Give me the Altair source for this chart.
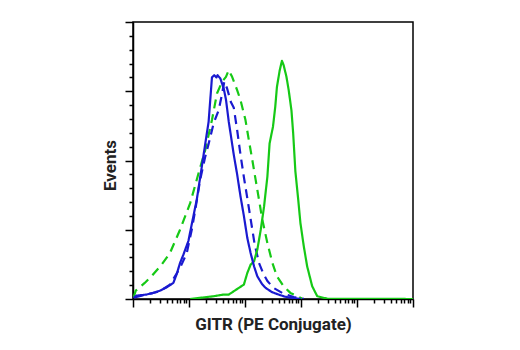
import altair as alt
import pandas as pd

# ---- data ----
blue_solid_x = [1.02, 1.15, 1.74, 2.29, 3.02, 3.98, 5.25, 6.03, 6.92, 7.94,
                9.77, 11.2, 13.8, 17.0, 19.5, 22.4, 24.0, 25.7, 28.2, 30.9,
                32.4, 36.3, 41.7, 45.7, 51.3, 55.0, 63.1, 72.4, 83.2, 95.5,
                110, 126, 145, 166, 200, 234, 302, 398, 525, 692, 1000]
blue_solid_y = [0.4, 1.2, 1.6, 2.2, 3.0, 4.2, 5.8, 9.0, 13.0, 16.0,
                21.0, 27.0, 36.0, 48.0, 56.0, 64.0, 72.0, 80.0, 80.8, 80.0,
                80.8, 79.6, 76.0, 72.0, 64.0, 60.0, 52.0, 45.0, 37.0, 30.0,
                22.0, 16.6, 11.8, 8.2, 5.5, 4.0, 2.5, 1.6, 0.8, 0.4, 0.0]

blue_dashed_x = [1.07, 1.74, 3.02, 4.57, 6.92, 9.12, 11.2, 12.9, 15.8, 19.5,
                 22.4, 27.5, 33.9, 38.9, 42.7, 47.9, 56.2, 63.1, 72.4, 83.2,
                 95.5, 117, 148, 178, 214, 251, 324, 490, 741, 1122]
blue_dashed_y = [0.6, 1.6, 2.8, 5.2, 11.2, 16.6, 25, 32, 43, 51.4,
                 56, 63.4, 68.2, 74, 78.5, 76, 71, 69, 61, 52,
                 44, 33, 20, 13, 9, 6.5, 4, 1.9, 0.7, 0.1]

green_dashed_x = [1.02, 1.12, 1.62, 2.14, 3.24, 4.57, 6.92, 10.5, 14.8, 19.5,
                  25.7, 31.6, 38.9, 45.7, 51.3, 58.9, 72.4, 83.2, 102, 117,
                  135, 155, 178, 204, 251, 309, 372, 490, 646, 851, 1047]
green_dashed_y = [0.5, 3.0, 5.8, 8.2, 12.4, 16.6, 25, 34.6, 45.4, 53.8,
                  64.6, 74.2, 78.4, 80.2, 82.6, 80.2, 75.4, 71.8, 64.6, 57.4,
                  50.2, 43, 35.8, 28.6, 20.2, 13, 8.2, 4.6, 2.2, 1.0, 0.2]

green_solid_x = [10.5, 27.5, 41.7, 51.3, 58.9, 77.6, 95.5, 110, 126, 145,
                 166, 191, 219, 251, 275, 316, 347, 372, 417, 457,
                 490, 550, 603, 676, 724, 794, 891, 977, 1122, 1288,
                 1585, 1950, 2951, 100000]
green_solid_y = [0, 1.0, 1.6, 1.6, 2.4, 4.0, 5.2, 9.4, 12.4, 13.6,
                 17.8, 25, 33.4, 44.2, 56.2, 62.2, 69.4, 76.6, 82.6, 86,
                 84.4, 80.2, 75.4, 68, 60, 46, 36, 27.4, 19, 11.8,
                 4.6, 1.0, 0.1, 0]

series_names = ["green_dashed", "blue_dashed", "green_solid", "blue_solid"]
series_colors = ["#16c916", "#1a1ad0", "#16c916", "#1a1ad0"]
series_dash = [[9, 6], [9, 6], [1, 0], [1, 0]]
series_width = [2.2, 2.2, 1.5, 1.5]

x_ticks = [m * 10 ** k for k in range(5) for m in range(1, 10)] + [100000]
y_ticks = list(range(0, 101, 5))

frames = []
for name, xs, ys in [("green_dashed", green_dashed_x, green_dashed_y),
                     ("blue_dashed", blue_dashed_x, blue_dashed_y),
                     ("green_solid", green_solid_x, green_solid_y),
                     ("blue_solid", blue_solid_x, blue_solid_y)]:
    frames.append(pd.DataFrame({"x": xs, "y": ys, "series": name}))
df = pd.concat(frames, ignore_index=True)
df["order"] = range(len(df))

title_font = "Roboto"

chart = alt.Chart(df).mark_line(clip=True, strokeJoin="round").encode(
    x=alt.X("x:Q",
            scale=alt.Scale(type="log", domain=[1, 100000], nice=False),
            axis=alt.Axis(values=x_ticks, labels=False, grid=False,
                          title="GITR (PE Conjugate)",
                          tickSize={"condition": {"test": "indexof([1,10,100,1000,10000,100000], datum.value) >= 0", "value": 8}, "value": 4},
                          titleY=30, titleBaseline="alphabetic")),
    y=alt.Y("y:Q",
            scale=alt.Scale(domain=[0, 100], nice=False),
            axis=alt.Axis(values=y_ticks, labels=False, grid=False,
                          title="Events",
                          tickSize={"condition": {"test": "datum.value % 25 === 0", "value": 8}, "value": 4},
                          titleX=-18, titleY=143, titleAlign="center", titleAngle=270,
                          titleBaseline="alphabetic")),
    color=alt.Color("series:N", scale=alt.Scale(domain=series_names, range=series_colors), legend=None),
    strokeDash=alt.StrokeDash("series:N", scale=alt.Scale(domain=series_names, range=series_dash), legend=None),
    strokeWidth=alt.StrokeWidth("series:N", scale=alt.Scale(domain=series_names, range=series_width), legend=None),
    order="order:Q",
).properties(
    width=280, height=277,
    padding={"left": 133, "top": 22, "right": 107, "bottom": 51},
    autosize=alt.AutoSizeParams(type="none"),
    background="white",
).configure_view(
    stroke="black", strokeWidth=1.5
).configure_axis(
    domainColor="black", domainWidth=1.5, tickColor="black", tickWidth=1.5,
    titleFont=title_font, titleFontSize=17, titleFontWeight="bold", titleColor="#222222",
)

chart.save("out.html", embed_options={"renderer": "svg", "actions": False})
